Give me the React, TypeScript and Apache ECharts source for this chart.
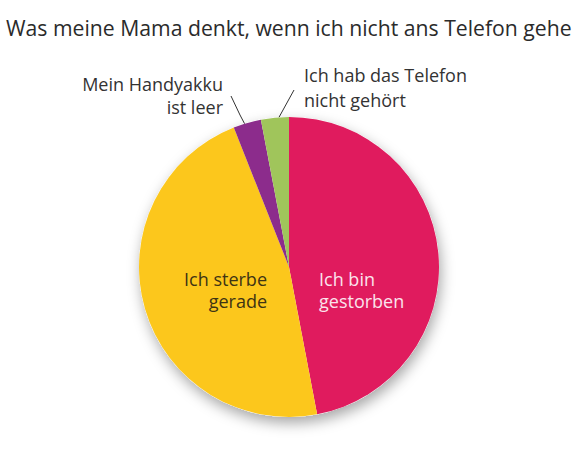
import React, { useEffect, useRef } from "react";
import * as echarts from "echarts";

const titleText = "Was meine Mama denkt, wenn ich nicht ans Telefon gehe";
const categories = [
  "Ich bin\ngestorben",
  "Ich sterbe\ngerade",
  "Mein Handyakku\nist leer",
  "Ich hab das Telefon\nnicht gehört",
];
const values = [47, 47, 3, 3];
const colors = ["#E01B5E", "#FCC71C", "#8C2C8C", "#A0C55B"];
const labelColors = ["#FBE3EC", "#3E3414", "#333333", "#333333"];

export default function App() {
  const ref = useRef<HTMLDivElement>(null);
  useEffect(() => {
    if (!ref.current) return;
    const chart = echarts.init(ref.current, undefined, { renderer: "svg" });
    const font = "'Open Sans', 'Noto Sans', sans-serif";
    const layouts: any[] = [
      { x: 319, y: 290, align: "left", verticalAlign: "middle" },
      { x: 267, y: 290, align: "right", verticalAlign: "middle" },
      {
        x: 223, y: 95, align: "right", verticalAlign: "middle",
        labelLinePoints: [[231, 96], [240, 115], [250, 134]],
      },
      {
        x: 304, y: 87, align: "left", verticalAlign: "middle",
        labelLinePoints: [[294, 90], [283, 110], [272, 130]],
      },
    ];
    chart.setOption({
      animation: false,
      backgroundColor: "#ffffff",
      title: {
        text: titleText,
        left: 1,
        top: 12,
        textStyle: { fontFamily: font, fontSize: 21.2, fontWeight: "normal", color: "#2b2b2b" },
      },
      series: [
        {
          type: "pie",
          silent: true,
          center: [289, 267],
          radius: 150,
          label: { show: false },
          labelLine: { show: false },
          itemStyle: {
            color: "#ffffff",
            shadowBlur: 14,
            shadowOffsetY: 6,
            shadowOffsetX: 2,
            shadowColor: "rgba(0,0,0,0.35)",
          },
          data: [1],
        },
        {
          type: "pie",
          center: [289, 267],
          radius: 150,
          startAngle: 90,
          clockwise: true,
          itemStyle: { borderWidth: 0 },
          label: {
            show: true,
            position: "outside",
            fontFamily: font,
            overflow: "none",
          },
          labelLine: { show: true, lineStyle: { color: "#333", width: 1 } },
          labelLayout: (params: any) => layouts[params.dataIndex],
          data: values.map((v, i) => ({
            value: v,
            name: categories[i],
            itemStyle: { color: colors[i] },
            label: {
              color: labelColors[i],
              fontSize: 18,
              lineHeight: i < 2 ? 22 : i === 2 ? 23 : 25,
              overflow: "none",
            },
            labelLine: { show: i >= 2 },
          })),
        },
      ],
    });
    return () => chart.dispose();
  }, []);
  return (
    <div
      ref={ref}
      style={{ position: "fixed", left: 0, top: 0, width: 575, height: 451 }}
    />
  );
}
